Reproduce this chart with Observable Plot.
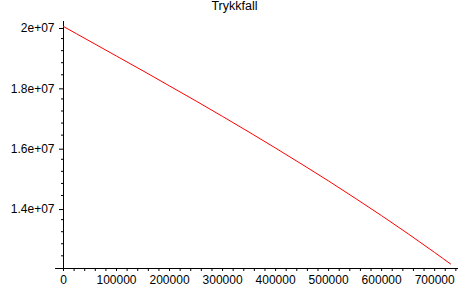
<!DOCTYPE html>
<html><head><meta charset="utf-8">
<script src="https://cdn.jsdelivr.net/npm/d3@7"></script>
<script src="https://cdn.jsdelivr.net/npm/@observablehq/plot@0.6"></script>
<style>
body{margin:0;background:#fff;font-family:"Liberation Sans",Arial,sans-serif;}
#title{width:469px;text-align:center;font-size:12.5px;line-height:13px;height:13px;color:#000;}
#chart svg{display:block;}
</style></head><body>
<div id="title"></div>
<div id="chart"></div>
<script>
const title = "Trykkfall";
const xValues = [0, 50000, 100000, 150000, 200000, 250000, 300000, 350000, 400000, 450000, 500000, 550000, 600000, 650000, 700000, 730000];
const yValues = [2.000e7, 1.951e7, 1.902e7, 1.853e7, 1.803e7, 1.753e7, 1.702e7, 1.650e7, 1.597e7, 1.543e7, 1.488e7, 1.431e7, 1.373e7, 1.313e7, 1.251e7, 1.213e7];
const xMajorTicks = [0, 100000, 200000, 300000, 400000, 500000, 600000, 700000];
const xTickLabels = ["0", "100000", "200000", "300000", "400000", "500000", "600000", "700000"];
const xMinorTicks = [20000, 40000, 60000, 80000, 120000, 140000, 160000, 180000, 220000, 240000, 260000, 280000, 320000, 340000, 360000, 380000, 420000, 440000, 460000, 480000, 520000, 540000, 560000, 580000, 620000, 640000, 660000, 680000, 720000, 740000];
const yMajorTicks = [1.4e7, 1.6e7, 1.8e7, 2e7];
const yTickLabels = ["1.4e+07", "1.6e+07", "1.8e+07", "2e+07"];
const yMinorTicks = [1.24e7, 1.28e7, 1.32e7, 1.36e7, 1.44e7, 1.48e7, 1.52e7, 1.56e7, 1.64e7, 1.68e7, 1.72e7, 1.76e7, 1.84e7, 1.88e7, 1.92e7, 1.96e7];
const xDomain = [0, 745000];
const yDomain = [1.198e7, 2.0166e7];
const xAxisStart = -15000;

document.getElementById("title").textContent = title;
const data = xValues.map((x, i) => ({x, y: yValues[i]}));

const plot = Plot.plot({
  width: 469, height: 274,
  marginTop: 8, marginBottom: 19, marginLeft: 63, marginRight: 11,
  style: {fontFamily: '"Liberation Sans", Arial, sans-serif', fontSize: "12px", background: "white", color: "black", overflow: "visible"},
  x: {domain: xDomain, label: null},
  y: {domain: yDomain, label: null},
  marks: [
    Plot.axisX(xMinorTicks, {tickSize: 3, tickFormat: () => "", label: null}),
    Plot.axisX(xMajorTicks, {tickSize: 3, tickPadding: 4, tickFormat: d => xTickLabels[xMajorTicks.indexOf(d)], label: null}),
    Plot.axisY(yMinorTicks, {tickSize: 2, tickFormat: () => "", label: null}),
    Plot.axisY(yMajorTicks, {tickSize: 4, tickPadding: 5, dy: 2, tickFormat: d => yTickLabels[yMajorTicks.indexOf(d)], label: null}),
    Plot.ruleX([0], {y1: yDomain[0], y2: yDomain[1], stroke: "black"}),
    Plot.ruleY([yDomain[0]], {x1: xAxisStart, x2: xDomain[1], stroke: "black"}),
    Plot.line(data, {x: "x", y: "y", stroke: "#ff0000", strokeWidth: 1, curve: "monotone-x"})
  ]
});
document.getElementById("chart").appendChild(plot);
</script>
</body></html>
